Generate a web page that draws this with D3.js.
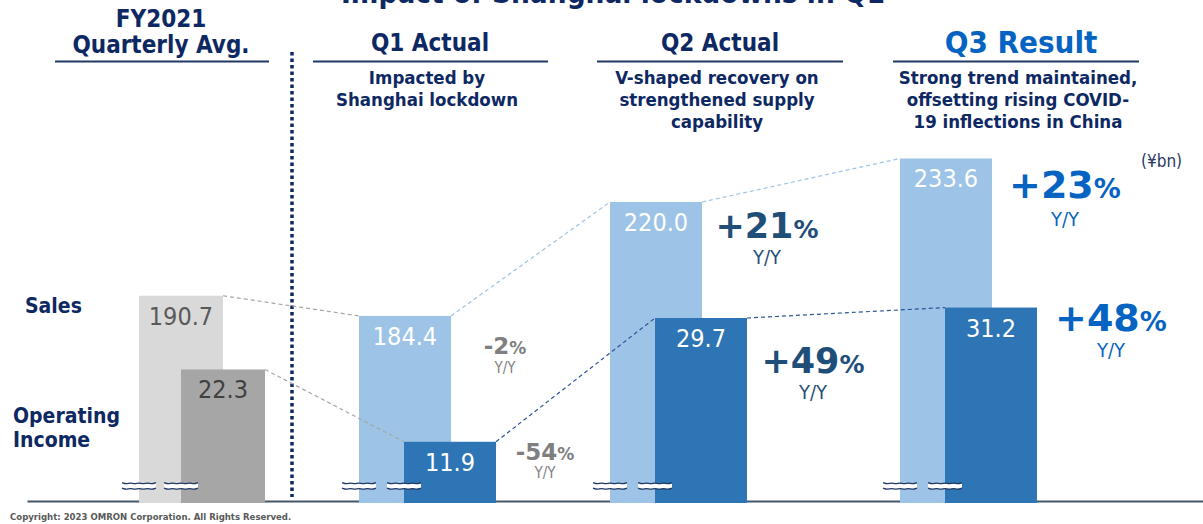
<!DOCTYPE html>
<html>
<head>
<meta charset="utf-8">
<script src="https://cdn.jsdelivr.net/npm/d3@7"></script>
<style>
	body { margin: 0; background: #fff; }
	svg { display: block; }
	text { font-family: "DejaVu Sans Condensed", "DejaVu Sans", sans-serif; font-stretch: condensed; }
	.pct { font-family: "DejaVu Sans", sans-serif; font-stretch: normal; font-weight: bold; }
</style>
</head>
<body>
<svg width="1203" height="524"></svg>
<script>
// chart data
const categories = ['FY2021', 'Q1', 'Q2', 'Q3'];
const sales = [190.7, 184.4, 220.0, 233.6];
const income = [22.3, 11.9, 29.7, 31.2];
const salesYoY = [null, '-2', '+21', '+23'];
const incomeYoY = [null, '-54', '+49', '+48'];
const headers = [['FY2021', 'Quarterly Avg.'], ['Q1 Actual'], ['Q2 Actual'], ['Q3 Result']];
const notes = [
	[],
	['Impacted by', 'Shanghai lockdown'],
	['V-shaped recovery on', 'strengthened supply', 'capability'],
	['Strong trend maintained,', 'offsetting rising COVID-', '19 inflections in China']
];
const title = 'Impact of Shanghai lockdowns in Q1';
const unit = '(¥bn)';
const copyright = 'Copyright: 2023 OMRON Corporation. All Rights Reserved.';

const navy = '#0d2862';
const baseY = 501;

function init() {
	const svg = d3.select('svg');

	// column placement
	const xLeft = d3.scaleOrdinal().domain(categories).range([139, 359, 610, 900]);
	const barW = d3.scaleOrdinal().domain(categories).range([84, 92, 92, 92]);
	const shift = d3.scaleOrdinal().domain(categories).range([42, 45, 45, 45]);
	const headX = d3.scaleOrdinal().domain(categories).range([161, 430, 720, 1021]);
	const rule = d3.scaleOrdinal().domain(categories).range([[55, 269], [313, 548], [597, 843], [893, 1139]]);

	// broken value axes (one per series)
	const ySales = d3.scaleLinear().domain([180, 240]).range([330, 138]);
	const yInc = d3.scaleLinear().domain([10, 32]).range([455, 302]);

	const salesFill = d3.scaleOrdinal().domain(categories).range(['#d9d9d9', '#9dc3e6', '#9dc3e6', '#9dc3e6']);
	const incFill = d3.scaleOrdinal().domain(categories).range(['#a6a6a6', '#2e75b6', '#2e75b6', '#2e75b6']);
	const labelFill = d3.scaleOrdinal().domain(categories).range(['#595959', '#fff', '#fff', '#fff']);
	const pctFill = d3.scaleOrdinal().domain(categories).range(['#7f7f7f', '#7f7f7f', '#1f4e79', '#0563c1']);

	// title (cut at top edge, as in the slide)
	svg.append('text')
		.attr('x', 613).attr('y', 3)
		.attr('text-anchor', 'middle')
		.attr('font-size', 30).attr('font-weight', 'bold')
		.attr('fill', navy)
		.attr('textLength', 544).attr('lengthAdjust', 'spacingAndGlyphs')
		.text(title);

	// baseline axis
	const xAxisScale = d3.scaleLinear().domain([0, 1]).range([27, 1203]);
	svg.append('g')
		.attr('transform', 'translate(0,' + baseY + ')')
		.call(d3.axisBottom(xAxisScale).tickValues([]).tickSizeOuter(0))
		.call(g => g.select('.domain').attr('stroke', '#44546a').attr('stroke-width', 2));

	// headers
	categories.forEach((c, i) => {
		const lines = headers[i];
		const isQ3 = c === 'Q3';
		lines.forEach((t, j) => {
			svg.append('text')
				.attr('x', headX(c))
				.attr('y', lines.length === 2 ? 27 + j * 26 : (isQ3 ? 53 : 51))
				.attr('text-anchor', 'middle')
				.attr('font-size', isQ3 ? 31 : 24)
				.attr('font-weight', 'bold')
				.attr('fill', isQ3 ? '#0563c1' : navy)
				.text(t);
		});
		svg.append('line')
			.attr('x1', rule(c)[0]).attr('x2', rule(c)[1])
			.attr('y1', 61.5).attr('y2', 61.5)
			.attr('stroke', '#1f3864').attr('stroke-width', 2);
		notes[i].forEach((t, j) => {
			svg.append('text')
				.attr('x', headX(c) - 3)
				.attr('y', 84 + j * 22)
				.attr('text-anchor', 'middle')
				.attr('font-size', 18.5)
				.attr('font-weight', 'bold')
				.attr('fill', navy)
				.text(t);
		});
	});

	// dotted separator
	svg.append('line')
		.attr('x1', 292).attr('x2', 292)
		.attr('y1', 52).attr('y2', 497)
		.attr('stroke', '#0d2862').attr('stroke-width', 3.5)
		.attr('stroke-dasharray', '3.5 3');

	// row labels
	svg.append('text').attr('x', 25).attr('y', 313)
		.attr('font-size', 21).attr('font-weight', 'bold').attr('fill', navy).text('Sales');
	svg.append('text').attr('x', 13).attr('y', 423)
		.attr('font-size', 21).attr('font-weight', 'bold').attr('fill', navy).text('Operating');
	svg.append('text').attr('x', 13).attr('y', 447)
		.attr('font-size', 21).attr('font-weight', 'bold').attr('fill', navy).text('Income');

	svg.append('text').attr('x', 1141).attr('y', 167)
		.attr('font-size', 17).attr('fill', '#1f3864').text(unit);

	// sales bars
	svg.append('g').selectAll('rect')
		.data(categories)
		.join('rect')
		.attr('x', c => xLeft(c))
		.attr('y', (c, i) => ySales(sales[i]))
		.attr('width', c => barW(c))
		.attr('height', (c, i) => baseY + 2 - ySales(sales[i]))
		.attr('fill', c => salesFill(c));

	// operating income bars
	svg.append('g').selectAll('rect')
		.data(categories)
		.join('rect')
		.attr('x', c => xLeft(c) + shift(c))
		.attr('y', (c, i) => yInc(income[i]))
		.attr('width', c => barW(c))
		.attr('height', (c, i) => baseY + 2 - yInc(income[i]))
		.attr('fill', c => incFill(c));

	// value labels
	svg.append('g').selectAll('text')
		.data(categories)
		.join('text')
		.attr('x', c => xLeft(c) + barW(c) / 2)
		.attr('y', (c, i) => ySales(sales[i]) + 29)
		.attr('text-anchor', 'middle')
		.attr('font-size', 25)
		.attr('fill', c => labelFill(c))
		.text((c, i) => sales[i].toFixed(1));

	svg.append('g').selectAll('text')
		.data(categories)
		.join('text')
		.attr('x', c => xLeft(c) + shift(c) + barW(c) / 2)
		.attr('y', (c, i) => yInc(income[i]) + 29)
		.attr('text-anchor', 'middle')
		.attr('font-size', 25)
		.attr('fill', c => c === 'FY2021' ? '#404040' : '#fff')
		.text((c, i) => income[i].toFixed(1));

	// dashed connectors between quarters
	for (let i = 0; i < categories.length - 1; i++) {
		const a = categories[i];
		const b = categories[i + 1];
		svg.append('line')
			.attr('x1', xLeft(a) + barW(a)).attr('y1', ySales(sales[i]))
			.attr('x2', xLeft(b)).attr('y2', ySales(sales[i + 1]))
			.attr('stroke', i === 0 ? '#a6a6a6' : '#9dc3e6')
			.attr('stroke-width', 1.2)
			.attr('stroke-dasharray', '4 3');
		svg.append('line')
			.attr('x1', xLeft(a) + shift(a) + barW(a)).attr('y1', yInc(income[i]))
			.attr('x2', xLeft(b) + shift(b)).attr('y2', yInc(income[i + 1]))
			.attr('stroke', i === 0 ? '#a6a6a6' : '#2f5597')
			.attr('stroke-width', 1.2)
			.attr('stroke-dasharray', '4 3');
	}

	// axis break marks
	const wave = d3.line().curve(d3.curveBasis);
	function breakMark(cx) {
		const xs = d3.range(0, 9).map(k => cx - 17 + k * 34 / 8);
		const top = xs.map((x, k) => [x, 483 + (k % 2 ? 1.2 : -0.4)]);
		const bot = xs.map((x, k) => [x, 488.5 + (k % 2 ? 1.2 : -0.4)]);
		svg.append('rect')
			.attr('x', cx - 17).attr('y', 483.5)
			.attr('width', 34).attr('height', 5.5)
			.attr('fill', '#fff');
		svg.append('path').attr('d', wave(top)).attr('fill', 'none')
			.attr('stroke', '#1f3864').attr('stroke-width', 1.3);
		svg.append('path').attr('d', wave(bot)).attr('fill', 'none')
			.attr('stroke', '#1f3864').attr('stroke-width', 1.3);
	}
	categories.forEach(c => {
		breakMark(xLeft(c));
		breakMark(xLeft(c) + shift(c));
	});

	// Y/Y change annotations
	const salesPctPos = [null, [505, 354, 373], [767, 238, 264], [1065, 198, 226]];
	const incPctPos = [null, [545, 460, 478], [813, 373, 399], [1111, 331, 357]];
	const big = d3.scaleOrdinal().domain(categories).range([0, 23, 35, 38]);
	const small = d3.scaleOrdinal().domain(categories).range([0, 17, 25, 27]);
	const yySize = d3.scaleOrdinal().domain(categories).range([0, 15, 20, 20]);

	function pct(c, value, pos) {
		if (value === null) return;
		const t = svg.append('text')
			.attr('class', 'pct')
			.attr('x', pos[0]).attr('y', pos[1])
			.attr('text-anchor', 'middle')
			.attr('fill', pctFill(c));
		t.append('tspan').attr('font-size', big(c)).text(value);
		t.append('tspan').attr('font-size', small(c)).text('%');
		svg.append('text')
			.attr('x', pos[0]).attr('y', pos[2])
			.attr('text-anchor', 'middle')
			.attr('font-size', yySize(c))
			.attr('fill', pctFill(c))
			.text('Y/Y');
	}
	categories.forEach((c, i) => {
		pct(c, salesYoY[i], salesPctPos[i]);
		pct(c, incomeYoY[i], incPctPos[i]);
	});

	svg.append('text')
		.attr('x', 10).attr('y', 520)
		.attr('font-size', 9.5).attr('font-weight', 'bold')
		.attr('fill', '#595959')
		.text(copyright);
}

init();
</script>
</body>
</html>
